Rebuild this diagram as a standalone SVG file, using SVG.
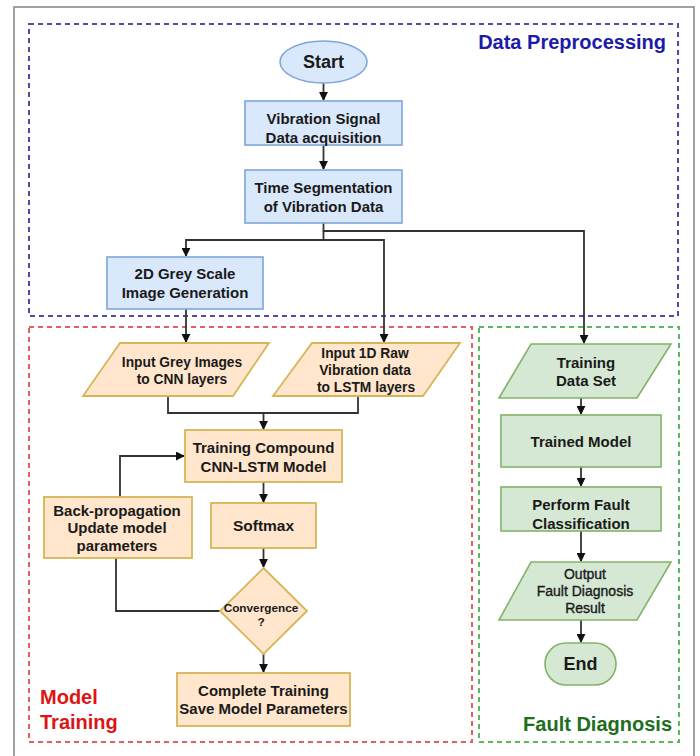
<svg xmlns="http://www.w3.org/2000/svg" width="700" height="756" viewBox="0 0 700 756">
<defs>
<marker id="arr" viewBox="0 0 10 10" refX="9" refY="5" markerWidth="9" markerHeight="9" markerUnits="userSpaceOnUse" orient="auto">
<path d="M0,0 L10,5 L0,10 Z" fill="#111"/>
</marker>
<style>
text{font-family:"Liberation Sans",Arial,sans-serif;font-weight:bold;fill:#1a1a1a;text-anchor:middle;dominant-baseline:central}
.t{font-size:15px}
.ts{font-size:13.8px}
.blue{fill:#dae8fc;stroke:#7ea6d8;stroke-width:1.6}
.org{fill:#ffe6cc;stroke:#d6b656;stroke-width:1.8}
.grn{fill:#d5e8d4;stroke:#82b366;stroke-width:1.6}
.conn path{fill:none;stroke:#333;stroke-width:1.8}
.reg{font-weight:normal;stroke:#1a1a1a;stroke-width:0.35;font-size:14px}
</style>
</defs>
<rect x="0" y="0" width="700" height="756" fill="#fff"/>
<rect x="14" y="7" width="680" height="770" fill="none" stroke="#8a8a8a" stroke-width="1.6"/>

<g id="groups" fill="none" stroke-width="2" stroke-dasharray="5,4">
<rect x="29" y="24" width="649" height="292" stroke="#4d4da6"/>
<rect x="29" y="327" width="443" height="415" stroke="#e06060"/>
<rect x="479" y="327" width="200" height="415" stroke="#5cb85c"/>
</g>
<text x="666" y="42" style="font-size:20px;fill:#1c1ca8;text-anchor:end">Data Preprocessing</text>
<text x="40" y="697" style="font-size:20px;fill:#dd1515;text-anchor:start">Model</text>
<text x="40" y="722" style="font-size:20px;fill:#dd1515;text-anchor:start">Training</text>
<text x="672" y="724" style="font-size:20px;fill:#1e6e1e;text-anchor:end">Fault Diagnosis</text>

<g class="conn">
<path d="M323.5,83 V100" marker-end="url(#arr)"/>
<path d="M323.5,145 V169" marker-end="url(#arr)"/>
<path d="M323.5,223 V231 H584 V343" marker-end="url(#arr)"/>
<path d="M323.5,231 V240 H384 V342" marker-end="url(#arr)"/>
<path d="M323.5,240 H186 V256" marker-end="url(#arr)"/>
<path d="M186,309 V342" marker-end="url(#arr)"/>
<path d="M168,396 V413 H358 V396"/>
<path d="M263.5,413 V429" marker-end="url(#arr)"/>
<path d="M263.5,482 V502" marker-end="url(#arr)"/>
<path d="M263.5,548 V567" marker-end="url(#arr)"/>
<path d="M263.5,654 V672" marker-end="url(#arr)"/>
<path d="M220,611 H116 V558"/>
<path d="M120,497 V456 H184" marker-end="url(#arr)"/>
<path d="M581,398 V414" marker-end="url(#arr)"/>
<path d="M581,467 V486" marker-end="url(#arr)"/>
<path d="M581,531 V561" marker-end="url(#arr)"/>
<path d="M581,620 V642" marker-end="url(#arr)"/>
</g>

<g id="start"><ellipse cx="323.5" cy="62" rx="43.5" ry="21" class="blue"/><text x="323.5" y="62" style="font-size:18px">Start</text></g>
<g id="acq"><rect x="245" y="101" width="157" height="44" class="blue"/><text class="t" x="323.5" y="118">Vibration Signal</text><text class="t" x="323.5" y="137">Data acquisition</text></g>
<g id="seg"><rect x="245" y="170" width="157" height="53" class="blue"/><text class="t" x="323.5" y="187">Time Segmentation</text><text class="t" x="323.5" y="206">of Vibration Data</text></g>
<g id="img"><rect x="107" y="257" width="156" height="52" class="blue"/><text class="t" x="185" y="273">2D Grey Scale</text><text class="t" x="185" y="292">Image Generation</text></g>

<g id="in2d"><path d="M120,343 H269 L233,396 H83 Z" class="org"/><text class="ts" x="182" y="362">Input Grey Images</text><text class="ts" x="182" y="379">to CNN layers</text></g>
<g id="in1d"><path d="M312,343 H460 L423,396 H273 Z" class="org"/><text class="ts" x="365" y="353">Input 1D Raw</text><text class="ts" x="365" y="370">Vibration data</text><text class="ts" x="366" y="387">to LSTM layers</text></g>
<g id="train"><rect x="185" y="430" width="157" height="52" class="org"/><text class="t" x="263.5" y="447">Training Compound</text><text class="t" x="263.5" y="466">CNN-LSTM Model</text></g>
<g id="backprop"><rect x="44" y="497" width="148" height="61" class="org"/><text class="t" x="117" y="510">Back-propagation</text><text class="t" x="117" y="527">Update model</text><text class="t" x="117" y="545">parameters</text></g>
<g id="softmax"><rect x="211" y="503" width="105" height="45" class="org"/><text x="263.5" y="525" style="font-size:15.5px">Softmax</text></g>
<g id="conv"><path d="M263.5,568 L307,611 L263.5,654 L220,611 Z" class="org"/><text x="261" y="608" style="font-size:11.8px">Convergence</text><text x="261" y="622" style="font-size:11.8px">?</text></g>
<g id="complete"><rect x="177" y="673" width="173" height="53" class="org"/><text class="t" x="263.5" y="690">Complete Training</text><text class="t" x="263.5" y="708">Save Model Parameters</text></g>

<g id="tds"><path d="M531,344 H671 L637,398 H499 Z" class="grn"/><text class="t" x="586" y="362">Training</text><text class="t" x="586" y="380">Data Set</text></g>
<g id="trained"><rect x="501" y="415" width="160" height="52" class="grn"/><text class="t" x="581" y="441">Trained Model</text></g>
<g id="classify"><rect x="501" y="487" width="160" height="44" class="grn"/><text class="t" x="581" y="504">Perform Fault</text><text class="t" x="581" y="523">Classification</text></g>
<g id="output"><path d="M531,562 H671 L637,620 H499 Z" class="grn"/><text class="reg" x="585" y="574">Output</text><text class="reg" x="585" y="591">Fault Diagnosis</text><text class="reg" x="585" y="608">Result</text></g>
<g id="end"><rect x="545" y="643" width="71" height="42" rx="21" class="grn"/><text x="580.5" y="664" style="font-size:18px">End</text></g>
</svg>
